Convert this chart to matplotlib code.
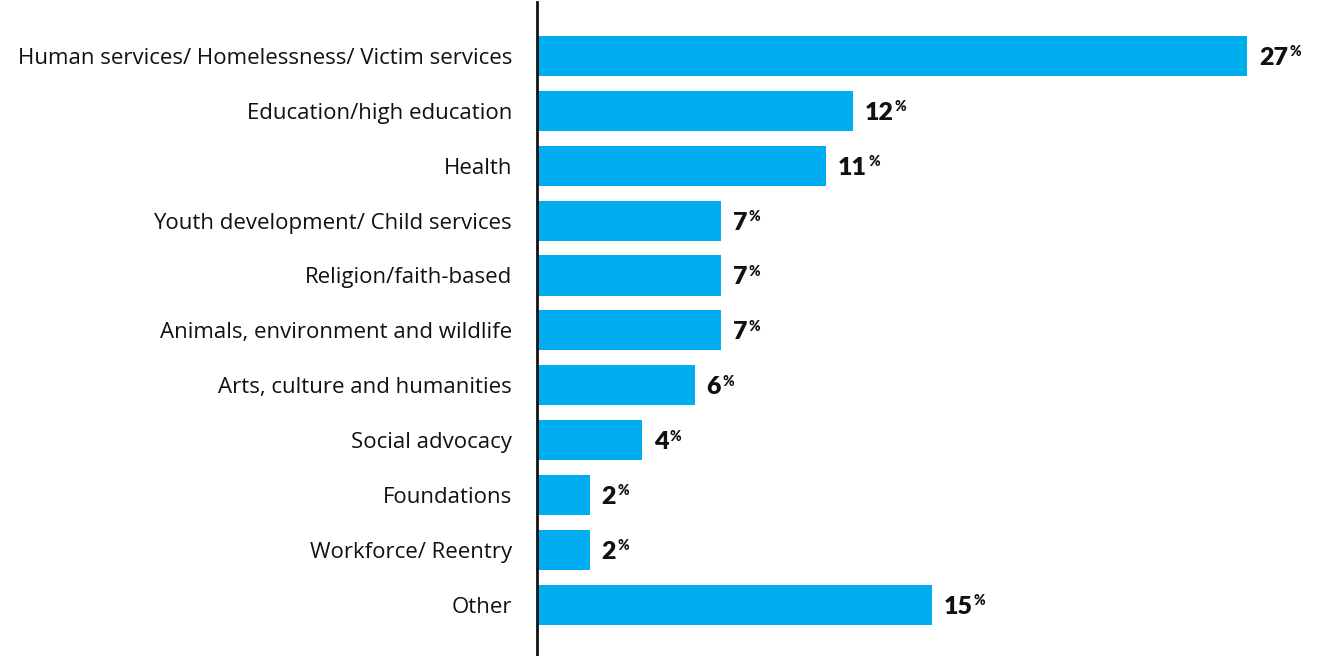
import matplotlib
matplotlib.use('Agg')
import matplotlib.pyplot as plt

categories = ['Human services/ Homelessness/ Victim services',
              'Education/high education',
              'Health',
              'Youth development/ Child services',
              'Religion/faith-based',
              'Animals, environment and wildlife',
              'Arts, culture and humanities',
              'Social advocacy',
              'Foundations',
              'Workforce/ Reentry',
              'Other']
values = [27, 12, 11, 7, 7, 7, 6, 4, 2, 2, 15]

plt.rcParams['font.family'] = ['Open Sans', 'DejaVu Sans']

fig = plt.figure(figsize=(13.22, 6.56), dpi=100)
ax = fig.add_axes([537 / 1322, 0, 785 / 1322, 654 / 656])

pos = list(range(len(categories)))
ax.barh(pos, values, height=0.73, color='#00AEEF', zorder=2)
ax.set_xlim(0, 785 / 26.3)
ax.set_ylim(10.93, -0.98)

ax.set_yticks(pos)
ax.set_yticklabels(categories, fontsize=16, color='#111111')
ax.tick_params(axis='y', length=0, pad=18)
ax.set_xticks([])
for s in ['top', 'right', 'bottom']:
    ax.spines[s].set_visible(False)
ax.spines['left'].set_linewidth(2)
ax.spines['left'].set_color('#111111')

fig.canvas.draw()
r = fig.canvas.get_renderer()
num_size = 18
pct_size = 10
digit_h = 0.72 * num_size
for p, v in zip(pos, values):
    t = ax.annotate(str(v), (v, p), xytext=(8.5, -digit_h / 2), textcoords='offset points',
                    ha='left', va='baseline', fontsize=num_size, fontweight='heavy',
                    family=['Lato', 'DejaVu Sans'], color='#111111')
    w = t.get_window_extent(renderer=r).width * 72 / fig.dpi
    ax.annotate('%', (v, p), xytext=(8.5 + w + 0.8, digit_h / 2 - 0.72 * pct_size + 0.5),
                textcoords='offset points', ha='left', va='baseline',
                fontsize=pct_size, fontweight='heavy', family=['Lato', 'DejaVu Sans'],
                color='#111111')

fig.savefig('out.png', dpi=100)
